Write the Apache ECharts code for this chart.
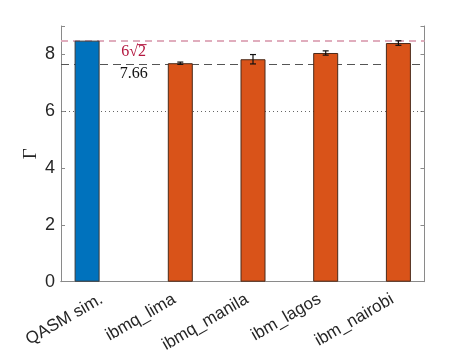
<!DOCTYPE html>
<html><head><meta charset="utf-8">
<script src="https://cdn.jsdelivr.net/npm/echarts@6/dist/echarts.min.js"></script>
<style>html,body{margin:0;padding:0;background:#fff}#c{width:469px;height:352px}</style>
</head><body><div id="c"></div>
<script>
const categories = ['QASM sim.', 'ibmq_lima', 'ibmq_manila', 'ibm_lagos', 'ibm_nairobi'];
const simValues = [8.485, null, null, null, null];
const deviceValues = [null, 7.69, 7.83, 8.05, 8.40];
const deviceErrors = [null, 0.04, 0.165, 0.075, 0.08];
const refIdeal = 8.485;      // 6*sqrt(2)
const refMeasured = 7.66;
const refDotted = 6;
const yTicks = [0, 2, 4, 6, 8];
const yMax = 9;

const BAR_W = 25, GAP_PX = -4.5;
const OFFSET = (BAR_W + GAP_PX) / 2;
const AXIS_C = '#8a8a8a', TEXT_C = '#262626';

const errData = [];
deviceValues.forEach((v, i) => { if (v != null) errData.push([i, v, deviceErrors[i]]); });

const chart = echarts.init(document.getElementById('c'), null, {renderer: 'canvas'});
const option = {
  animation: false,
  backgroundColor: '#fff',
  grid: {left: 61, right: 44.5, top: 26, bottom: 70.3, containLabel: false, outerBoundsMode: 'none'},
  xAxis: [{
    type: 'category', data: categories, position: 'bottom',
    axisLine: {lineStyle: {color: AXIS_C, width: 1}},
    axisTick: {inside: true, alignWithLabel: true, length: 4, lineStyle: {color: AXIS_C}},
    axisLabel: {rotate: 30, margin: 9, verticalAlign: 'top', color: TEXT_C, fontFamily: 'Liberation Sans', fontSize: 17}
  }, {
    type: 'category', data: categories, position: 'top',
    axisLine: {show: true, lineStyle: {color: AXIS_C, width: 1}},
    axisTick: {inside: true, alignWithLabel: true, length: 4, lineStyle: {color: AXIS_C}},
    axisLabel: {show: false}
  }],
  yAxis: [{
    type: 'value', min: 0, max: yMax, interval: 2, position: 'left',
    name: 'Γ', nameLocation: 'middle', nameGap: 20, nameRotate: 90, nameMoveOverlap: false,
    nameTextStyle: {fontFamily: 'Liberation Serif', fontSize: 19, color: TEXT_C},
    axisLine: {show: true, lineStyle: {color: AXIS_C, width: 1}},
    axisTick: {show: true, inside: true, length: 4, lineStyle: {color: AXIS_C}},
    splitLine: {show: false},
    axisLabel: {margin: 6, color: TEXT_C, fontFamily: 'Liberation Sans', fontSize: 18,
      formatter: v => yTicks.includes(v) ? String(v) : ''}
  }, {
    type: 'value', min: 0, max: yMax, interval: 2, position: 'right',
    axisLine: {show: true, lineStyle: {color: AXIS_C, width: 1}},
    axisTick: {show: true, inside: true, length: 4, lineStyle: {color: AXIS_C}},
    splitLine: {show: false},
    axisLabel: {show: false}
  }],
  series: [{
    type: 'bar', name: 'sim', data: simValues, barWidth: BAR_W, barGap: (GAP_PX / BAR_W * 100) + '%',
    itemStyle: {color: '#0072BD', borderColor: '#3a3a3a', borderWidth: 1},
    z: 2
  }, {
    type: 'bar', name: 'device', data: deviceValues, barWidth: BAR_W,
    itemStyle: {color: '#D95319', borderColor: '#4a2a1a', borderWidth: 1},
    z: 2,
    markLine: {
      silent: true, symbol: 'none', label: {show: false}, z: 1,
      data: [
        {yAxis: refIdeal, lineStyle: {color: '#e0adbd', width: 2, type: [7, 5]}},
        {yAxis: refMeasured, lineStyle: {color: '#555555', width: 1.1, type: [8, 5]}},
        {yAxis: refDotted, lineStyle: {color: '#666666', width: 1, type: [1, 3]}}
      ]
    }
  }, {
    type: 'custom', name: 'err', data: errData, z: 5,
    encode: {x: 0, y: 1},
    renderItem: function (params, api) {
      const i = api.value(0), v = api.value(1), e = api.value(2);
      const hi = api.coord([i, v + e]), lo = api.coord([i, v - e]);
      const x = hi[0] + OFFSET, cw = 3;
      const st = {stroke: '#111', lineWidth: 1.2};
      return {type: 'group', children: [
        {type: 'line', shape: {x1: x, y1: hi[1], x2: x, y2: lo[1]}, style: st},
        {type: 'line', shape: {x1: x - cw, y1: hi[1], x2: x + cw, y2: hi[1]}, style: st},
        {type: 'line', shape: {x1: x - cw, y1: lo[1], x2: x + cw, y2: lo[1]}, style: st}
      ]};
    }
  }]
};
chart.setOption(option);

const x0 = chart.convertToPixel({xAxisIndex: 0}, categories[0]);
const x1 = chart.convertToPixel({xAxisIndex: 0}, categories[1]);
const xm = (x0 + x1) / 2;
const yIdeal = chart.convertToPixel({yAxisIndex: 0}, refIdeal);
const yMeas = chart.convertToPixel({yAxisIndex: 0}, refMeasured);

const FONT = '16px "Liberation Serif"';
const ctx = document.createElement('canvas').getContext('2d');
ctx.font = FONT;
const wAll = ctx.measureText('6√2').width;
const wPre = ctx.measureText('6√').width;
const xs = xm - wAll / 2;
const yTxt = yIdeal + 3;
chart.setOption({
  graphic: [
    {type: 'text', x: xs, y: yTxt, z: 10,
      style: {text: '6√2', fill: '#b3173f', font: FONT, textAlign: 'left', textVerticalAlign: 'top'}},
    {type: 'line', z: 10, shape: {x1: xs + wPre - 1, y1: yTxt + 1, x2: xs + wAll + 0.5, y2: yTxt + 1},
      style: {stroke: '#b3173f', lineWidth: 1}},
    {type: 'text', x: xm, y: yMeas + 1.5, z: 10,
      style: {text: '7.66', fill: '#111', font: FONT, textAlign: 'center', textVerticalAlign: 'top'}}
  ]
});
</script>
</body></html>
